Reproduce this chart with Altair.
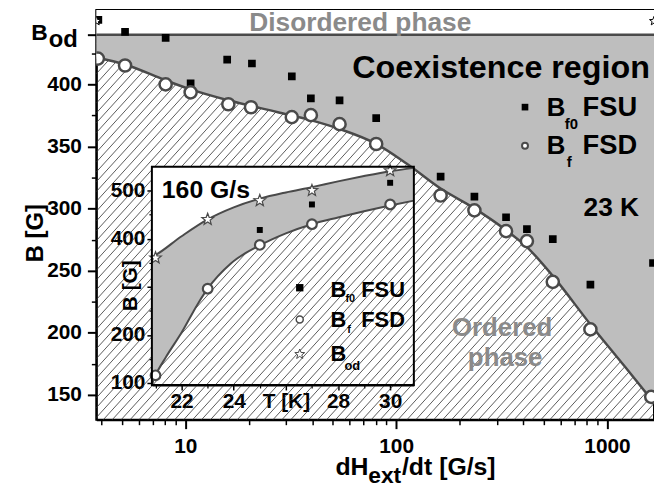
import altair as alt
import numpy as np
import pandas as pd

# ---------------- main panel data ----------------
# sweep rate dH_ext/dt [G/s] and field B [G]
fsd_rate = [3.85, 5.18, 8.07, 10.6, 16.0, 20.5, 32.0, 39.4, 53.9, 80.4, 162.5, 235, 332, 417, 553, 834, 1620]
fsd_B = [420.8, 415.2, 400.0, 393.6, 384.0, 381.6, 373.6, 375.2, 368.0, 352.0, 310.5, 298.6, 281.8, 273.8, 241.0, 202.7, 148.4]
fsu_rate = [3.87, 5.18, 8.07, 10.6, 15.8, 20.7, 32.0, 39.4, 53.9, 80.4, 162.5, 235, 332, 417, 553, 834, 1652]
fsu_B = [452, 442.3, 437.5, 400.8, 420.0, 416.8, 406.4, 388.8, 387.2, 372.8, 325.7, 309.7, 293.0, 283.4, 275.4, 238.7, 256.2]
edge_rate = [3.79, 1670]
edge_B = [451, 451]
BOD = 440
curve_rate = [3.785, 5.18, 8.08, 10.59, 15.99, 27.49, 39.30, 53.82, 80.34, 112.4, 162.5, 234.9,
              332.2, 417.2, 552.8, 834.4, 1219.6, 1670]
curve_B = [421.6, 416.0, 403.2, 396.0, 387.2, 377.6, 371.2, 364.1, 352.1, 336.1, 316.1, 300.2,
           282.6, 269.0, 245.8, 206.7, 172.4, 143.6]

# ---------------- inset data (T [K] vs B [G] at 160 G/s) ----------------
star_T = [21, 23, 25, 27, 30]
star_B = [360, 440, 479, 500, 541]
sq_T = [25, 27, 30]
sq_B = [418, 471, 516]
circ_T = [21, 23, 25, 27, 30]
circ_B = [116, 296, 387, 430, 471]
up_T = [20.86, 21, 22, 23, 24, 25, 26, 27, 28, 29, 30, 30.91]
up_B = [362, 366, 405, 440, 465, 483, 496, 507, 519, 530, 540, 547]
lo_T = [20.86, 21.0, 21.4, 22.0, 22.65, 23.0, 23.9, 25.0, 26.0, 27.0, 28.0, 29.0, 30.0, 30.91]
lo_B = [98, 116, 154, 205, 267, 296, 349, 386, 411, 430, 444, 457, 469, 479]

# ---------------- layout / style ----------------
FONT = "Liberation Sans"
DARK = "#4a4a4a"
GRAY = "#bebebe"
TXTGRAY = "#8a8a8a"
W, H = 562, 413
X_DOM = [3.785, 1670]
Y_DOM = [130, 460]
T_DOM = [20.86, 30.91]
BI_DOM = [96, 549.5]

# five-pointed star symbol as an SVG path in the [-1, 1] box
_a = np.deg2rad(-90 + 36 * np.arange(10))
_r = np.where(np.arange(10) % 2 == 0, 1.0, 0.42)
STAR = "M" + " L".join(f"{r * np.cos(a):.3f},{r * np.sin(a):.3f}" for r, a in zip(_r, _a)) + " Z"

xs = alt.Scale(type="log", domain=X_DOM, nice=False)
ys = alt.Scale(domain=Y_DOM, nice=False, zero=False)
ts = alt.Scale(domain=T_DOM, range=[56, 320], nice=False, zero=False)
bs = alt.Scale(domain=BI_DOM, range=[378, 158], nice=False, zero=False)

main_df = pd.DataFrame({"rate": fsd_rate, "B": fsd_B})
fsu_df = pd.DataFrame({"rate": fsu_rate, "B": fsu_B})
edge_df = pd.DataFrame({"rate": edge_rate, "B": edge_B})
curve_df = pd.DataFrame({"rate": curve_rate, "B": curve_B})

# hatch lines, generated across the main plot
k, step = 1.1, 9.0
lx0, lx1 = np.log10(X_DOM)
rows = []
c = step * k / 2
while c < W * k + H:
    pa = max(0.0, (c - H) / k)
    pb = min(float(W), c / k)
    if pb > pa:
        qa, qb = c - k * pa, c - k * pb
        rows.append(dict(
            x=10 ** (lx0 + pa / W * (lx1 - lx0)), x2=10 ** (lx0 + pb / W * (lx1 - lx0)),
            y=Y_DOM[1] - qa / H * (Y_DOM[1] - Y_DOM[0]), y2=Y_DOM[1] - qb / H * (Y_DOM[1] - Y_DOM[0])))
    c += step * k
hatch_df = pd.DataFrame(rows)


def X(f="rate", scale=xs, axis=None):
    return alt.X(f"{f}:Q", scale=scale, axis=axis)


def Y(f="B", scale=ys, axis=None):
    return alt.Y(f"{f}:Q", scale=scale, axis=axis)


def txt(s, x, y, size, color="black", align="left", angle=0, baseline="alphabetic"):
    return alt.Chart(pd.DataFrame({"t": [s]})).mark_text(
        font=FONT, fontWeight="bold", fontSize=size, color=color, align=align,
        angle=angle, baseline=baseline).encode(x=alt.value(x), y=alt.value(y), text="t:N")


def sym(x, y, **kw):
    return alt.Chart(pd.DataFrame({"a": [0]})).mark_point(opacity=1, **kw).encode(
        x=alt.value(x), y=alt.value(y))


AX = dict(labelFont=FONT, labelFontWeight="bold", labelFontSize=21, labelColor="black",
          tickColor="black", domainColor="black", grid=False, title=None)

hatch = alt.Chart(hatch_df).mark_rule(color="#333333", strokeWidth=0.8).encode(
    x=X("x"), x2="x2", y=Y("y"), y2="y2")
gray_area = alt.Chart(curve_df).mark_area(color=GRAY, interpolate="monotone", opacity=1).encode(
    x=X(), y=Y(), y2=alt.datum(BOD))
top_white = alt.Chart(pd.DataFrame({"x": [X_DOM[0]], "x2": [X_DOM[1]], "y": [BOD], "y2": [Y_DOM[1]]})
                      ).mark_rect(color="white", opacity=1).encode(x=X("x"), x2="x2", y=Y("y"), y2="y2")
bod_line = alt.Chart(pd.DataFrame({"B": [BOD]})).mark_rule(color=DARK, strokeWidth=2.5).encode(y=Y())
curve = alt.Chart(curve_df).mark_line(color=DARK, strokeWidth=2.5, interpolate="monotone").encode(
    x=X(), y=Y())
squares = alt.Chart(fsu_df).mark_point(shape="square", filled=True, color="black", size=60,
                                       opacity=1, clip=True).encode(x=X(), y=Y())
circles = alt.Chart(main_df).mark_point(shape="circle", filled=True, fill="white", stroke=DARK,
                                        strokeWidth=2.5, size=150, opacity=1, clip=True).encode(x=X(), y=Y())
edge_stars = alt.Chart(edge_df).mark_point(shape=STAR, filled=True, fill="white", stroke="black",
                                           strokeWidth=1, size=90, opacity=1, clip=True).encode(x=X(), y=Y())

main_axes = alt.Chart(curve_df).mark_point(opacity=0).encode(
    x=X(axis=alt.Axis(orient="bottom", values=[10, 100, 1000], labelExpr="'' + datum.value",
                      tickSize=9, tickWidth=2, domainWidth=2, labelPadding=7, **AX)),
    y=Y(axis=alt.Axis(orient="left", values=[150, 200, 250, 300, 350, 400, 440],
                      labelExpr="datum.value == 440 ? '' : '' + datum.value", tickSize=9, tickWidth=2,
                      domainWidth=2, labelPadding=6, **AX)))
minor_x = [4, 5, 6, 7, 8, 9, 20, 30, 40, 50, 60, 70, 80, 90, 200, 300, 400, 500, 600, 700, 800, 900]
minor_y = [175, 225, 275, 325, 375, 425]
main_minor = alt.Chart(curve_df).mark_point(opacity=0).encode(
    x=X(axis=alt.Axis(orient="bottom", values=minor_x, labels=False, domain=False, tickSize=5,
                      tickWidth=1.5, tickColor="black", grid=False, title=None)),
    y=Y(axis=alt.Axis(orient="left", values=minor_y, labels=False, domain=False, tickSize=5,
                      tickWidth=1.5, tickColor="black", grid=False, title=None)))

main_texts = [
    txt("Disordered phase", 266, 21, 26.5, TXTGRAY, "center"),
    txt("Coexistence region", 258, 69, 32.5),
    txt("B", 454, 107, 26), txt("f0", 472, 120, 15), txt("FSU", 490, 107, 27.5),
    txt("B", 454, 145, 26), txt("f", 474, 158, 15), txt("FSD", 490, 145, 27.5),
    txt("23 K", 491, 208, 26.5),
    txt("Ordered", 409, 329, 26, TXTGRAY, "center"),
    txt("phase", 412, 359, 26, TXTGRAY, "center"),
    txt("B", -49, 30, 23, align="right"), txt("od", -48, 37, 24),
    txt("B [G]", -61, 225, 24, align="center", angle=270, baseline="middle"),
    txt("dH", 241, 469, 25), txt("ext", 274, 477, 23), txt("/dt [G/s]", 308, 469, 25),
]
main_legend = [
    sym(432, 98, shape="square", filled=True, color="black", size=45),
    sym(432, 137, shape="circle", filled=True, fill="white", stroke=DARK, strokeWidth=2, size=36),
]

main = alt.layer(hatch, gray_area, top_white, bod_line, curve, squares, circles, edge_stars,
                 *main_texts, *main_legend, main_axes, main_minor
                 ).resolve_axis(x="independent", y="independent")

# ---------------- inset ----------------
up_df = pd.DataFrame({"T": up_T, "B": up_B})
lo_df = pd.DataFrame({"T": lo_T, "B": lo_B})


def TX(axis=None):
    return alt.X("T:Q", scale=ts, axis=axis)


def TY(axis=None):
    return alt.Y("B:Q", scale=bs, axis=axis)


in_gray = alt.Chart(lo_df).mark_area(color=GRAY, interpolate="monotone", opacity=1).encode(
    x=TX(), y=TY(), y2=alt.datum(BI_DOM[1]))
in_white = alt.Chart(up_df).mark_area(color="white", interpolate="monotone", opacity=1).encode(
    x=TX(), y=TY(), y2=alt.datum(BI_DOM[1]))
in_up = alt.Chart(up_df).mark_line(color=DARK, strokeWidth=2, interpolate="monotone").encode(x=TX(), y=TY())
in_lo = alt.Chart(lo_df).mark_line(color=DARK, strokeWidth=2, interpolate="monotone").encode(x=TX(), y=TY())
in_sq = alt.Chart(pd.DataFrame({"T": sq_T, "B": sq_B})).mark_point(
    shape="square", filled=True, color="black", size=36, opacity=1).encode(x=TX(), y=TY())
in_circ = alt.Chart(pd.DataFrame({"T": circ_T, "B": circ_B})).mark_point(
    shape="circle", filled=True, fill="white", stroke=DARK, strokeWidth=2.2, size=95, opacity=1
).encode(x=TX(), y=TY())
in_star = alt.Chart(pd.DataFrame({"T": star_T, "B": star_B})).mark_point(
    shape=STAR, filled=True, fill="white", stroke=DARK, strokeWidth=1.2, size=150, opacity=1
).encode(x=TX(), y=TY())
in_frame = alt.Chart(pd.DataFrame({"x": [T_DOM[0]], "x2": [T_DOM[1]], "y": [BI_DOM[0]], "y2": [BI_DOM[1]]})
                     ).mark_rect(filled=False, color="black", strokeWidth=2).encode(
    x=alt.X("x:Q", scale=ts, axis=None), x2="x2", y=alt.Y("y:Q", scale=bs, axis=None), y2="y2")
in_axes = alt.Chart(lo_df).mark_point(opacity=0).encode(
    x=TX(alt.Axis(orient="bottom", offset=-35, values=[22, 24, 26, 28, 30],
                  labelExpr="datum.value == 26 ? 'T [K]' : '' + datum.value", tickSize=5, tickWidth=1.5,
                  domainWidth=2, labelPadding=1, **AX)),
    y=TY(alt.Axis(orient="left", offset=-56, values=[100, 200, 300, 400, 500],
                  labelExpr="datum.value == 300 ? '' : '' + datum.value", tickSize=5, tickWidth=1.5,
                  domainWidth=2, labelPadding=2, **AX)))
in_minor = alt.Chart(lo_df).mark_point(opacity=0).encode(
    x=TX(alt.Axis(orient="bottom", offset=-35, values=[21, 23, 25, 27, 29], labels=False, domain=False,
                  tickSize=3, tickWidth=1.2, tickColor="black", grid=False, title=None)),
    y=TY(alt.Axis(orient="left", offset=-56, values=[150, 250, 350, 450], labels=False, domain=False,
                  tickSize=3, tickWidth=1.2, tickColor="black", grid=False, title=None)))
in_texts = [
    txt("160 G/s", 66, 190, 25),
    txt("B [G]", 35, 278, 21, align="center", angle=270, baseline="middle"),
    txt("B", 236, 289, 22), txt("f0", 251, 294, 11), txt("FSU", 267, 289, 22),
    txt("B", 236, 320, 22), txt("f", 253, 326, 11), txt("FSD", 267, 320, 22),
    txt("B", 236, 354, 22), txt("od", 250, 363, 13),
]
in_legend = [
    sym(205, 280, shape="square", filled=True, color="black", size=55),
    sym(205, 312, shape="circle", filled=True, fill="white", stroke=DARK, strokeWidth=1.5, size=50),
    sym(205, 347, shape=STAR, filled=True, fill="white", stroke=DARK, strokeWidth=1, size=110),
]
inset = alt.layer(in_gray, in_white, in_up, in_lo, in_sq, in_circ, in_star, in_frame,
                  *in_texts, *in_legend, in_axes, in_minor
                  ).resolve_axis(x="independent", y="independent")

chart = alt.layer(main, inset).resolve_scale(x="independent", y="independent").properties(
    width=W, height=H, padding={"left": 89, "top": 0, "right": 0, "bottom": 76},
    autosize=alt.AutoSizeParams(type="none"), background="white"
).configure_view(stroke="black", strokeWidth=2)

chart.save("out.html", embed_options={"renderer": "svg", "actions": False})
